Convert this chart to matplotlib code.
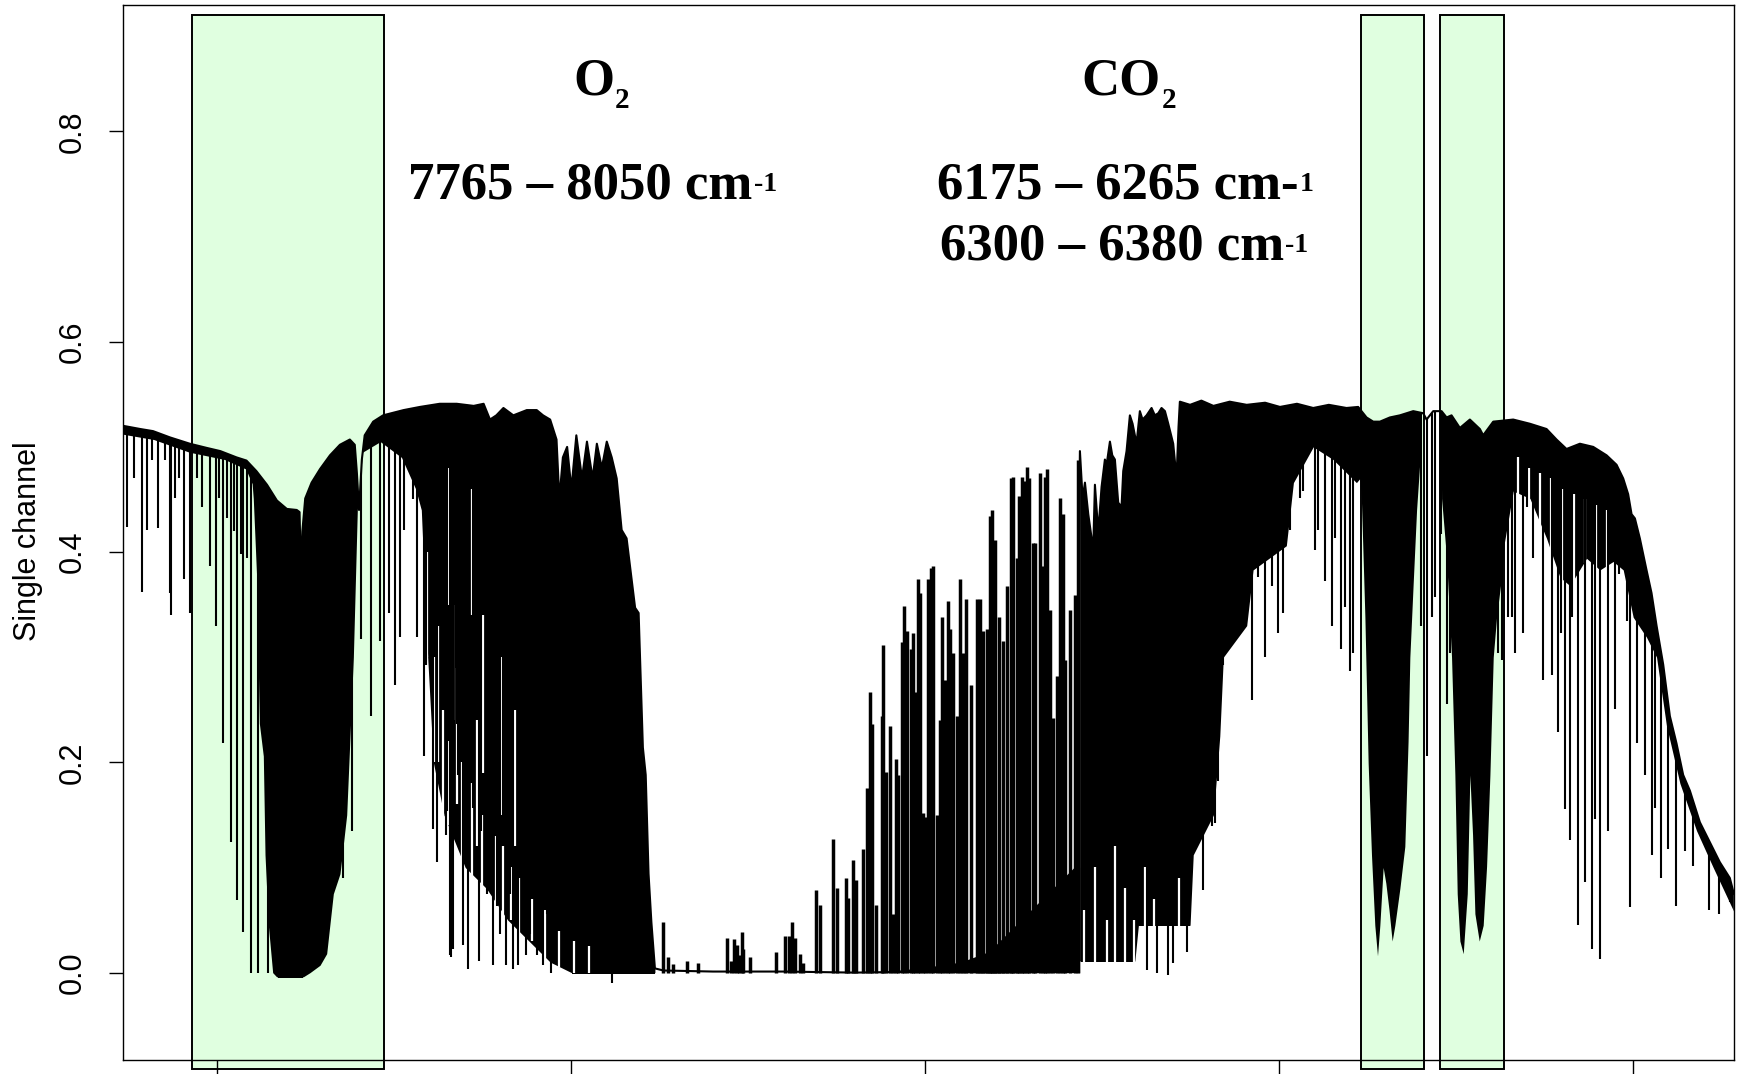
import numpy as np
import matplotlib
matplotlib.use("Agg")
import matplotlib.pyplot as plt
from matplotlib.patches import Polygon, Rectangle

plt.rcParams['font.family'] = ['Liberation Sans', 'DejaVu Sans']

# upper edge of the spectrum, wavenumber (cm-1) / single channel value
top_left_wn = [8133, 8109, 8091, 8067, 8039, 8015, 7996, 7973, 7959, 7945, 7930, 7916, 7902,
               7888, 7884, 7882, 7880, 7876, 7867, 7855, 7841, 7827, 7813, 7806, 7803, 7800,
               7796, 7792, 7780, 7766, 7737, 7714, 7686, 7662, 7638, 7624, 7615, 7606, 7596,
               7582, 7563, 7549, 7540, 7530, 7521, 7517, 7512, 7506, 7500, 7493, 7485, 7478,
               7470, 7464, 7457, 7450, 7443, 7436, 7429, 7422, 7410, 7405, 7399, 7395, 7391,
               7387, 7382]
top_left_y = [0.520, 0.517, 0.515, 0.509, 0.503, 0.499, 0.496, 0.490, 0.487, 0.477, 0.464, 0.449, 0.441,
              0.440, 0.438, 0.379, 0.420, 0.451, 0.466, 0.479, 0.492, 0.502, 0.507, 0.502, 0.475, 0.440,
              0.488, 0.511, 0.524, 0.530, 0.535, 0.538, 0.541, 0.541, 0.539, 0.541, 0.526, 0.530, 0.537,
              0.530, 0.535, 0.535, 0.530, 0.526, 0.507, 0.450, 0.490, 0.500, 0.460, 0.511, 0.470, 0.505,
              0.470, 0.503, 0.480, 0.505, 0.490, 0.470, 0.421, 0.413, 0.347, 0.342, 0.214, 0.188, 0.094,
              0.048, 0.004]

floor_wn = [7370, 7300, 7200, 7100, 7000, 6900, 6790]
floor_y = [0.002, 0.001, 0.001, 0.000, 0.001, 0.000, 0.001]

top_right_wn = [6781.6, 6777.8, 6774.5, 6769.8, 6762.8, 6760.4, 6755.7, 6751.0, 6746.3, 6743.9,
                6739.2, 6735.9, 6732.2, 6727.5, 6722.8, 6720.4, 6715.7, 6711.0, 6707.2, 6701.6,
                6696.9, 6693.1, 6687.4, 6680.4, 6675.7, 6670.9, 6666.3, 6661.5, 6656.8, 6649.8,
                6645.1, 6642.3, 6640.4, 6626, 6610, 6593, 6570, 6546, 6520, 6499, 6475, 6452, 6430,
                6405, 6388.5, 6376.7, 6367.2,
                6357.8, 6343.7, 6329.6, 6310.7, 6296.6, 6291.9, 6282.5, 6270.7, 6263.6, 6256.6,
                6244.8, 6230.7, 6216.6, 6211.9, 6197.7, 6169.5, 6145.9, 6122.4, 6108.3, 6094.2,
                6075.3, 6056.5, 6037.6, 6023.5, 6014.1, 6007.1, 6002.3, 5997.6, 5990.6, 5981.2,
                5974.1, 5967.0, 5957.6, 5948.2, 5938.8, 5929.4, 5919.9, 5905.8, 5891.7, 5877.6,
                5863.5, 5857.8]
top_right_y = [0.496, 0.451, 0.466, 0.436, 0.402, 0.464, 0.419, 0.462, 0.488, 0.483,
               0.505, 0.492, 0.488, 0.447, 0.443, 0.477, 0.496, 0.530, 0.522, 0.503,
               0.534, 0.526, 0.530, 0.537, 0.530, 0.532, 0.537, 0.534, 0.522, 0.503,
               0.470, 0.519, 0.543, 0.540, 0.544, 0.539, 0.543, 0.540, 0.542, 0.538, 0.541, 0.537, 0.540,
               0.537, 0.538, 0.528, 0.524,
               0.524, 0.528, 0.530, 0.534, 0.532, 0.526, 0.534, 0.534, 0.528, 0.530,
               0.518, 0.526, 0.517, 0.511, 0.524, 0.526, 0.522, 0.517, 0.507, 0.498,
               0.503, 0.500, 0.492, 0.483, 0.470, 0.455, 0.436, 0.432, 0.413, 0.383,
               0.361, 0.330, 0.293, 0.244, 0.218, 0.188, 0.173, 0.143, 0.124, 0.105,
               0.090, 0.075]

# lower edge of the solid black parts (filled up to the upper edge)
core_left_wn = [8133, 8090, 8040, 7990, 7960, 7951, 7949.4, 7944.6, 7940.8, 7935.2, 7932.8, 7928.1,
                7922.0, 7916.4, 7878.7, 7869.2, 7855.1, 7845.7, 7836.3, 7826.9, 7817.4, 7808.0,
                7802.4, 7795, 7770, 7740, 7720, 7712, 7703, 7695, 7680, 7650, 7620, 7590, 7560,
                7530, 7500, 7470, 7440, 7382]
core_left_lo = [0.512, 0.507, 0.495, 0.488, 0.479, 0.465, 0.451, 0.376, 0.237, 0.206, 0.112, 0.045,
                0.000, -0.004, -0.004, 0.000, 0.007, 0.018, 0.075, 0.094, 0.150, 0.300,
                0.440, 0.495, 0.505, 0.490, 0.460, 0.440, 0.300, 0.200, 0.150, 0.100, 0.080, 0.050, 0.030,
                0.010, 0.000, 0.000, 0.000, 0.000]

core_right_wn = [6782, 6704, 6699, 6626, 6621.5, 6593, 6584, 6579, 6546, 6537, 6490, 6480, 6452,
                 6424, 6391, 6386, 6384, 6379, 6374.4, 6369.7, 6365, 6361.2, 6357.9, 6353.2,
                 6349.4, 6345, 6340.5, 6336.7, 6329.6, 6322.6, 6318, 6315.5, 6310.8, 6306, 6301,
                 6297, 6272, 6270.7, 6263.6, 6256.6, 6251.9, 6248.6, 6244.8, 6240.1, 6234.4,
                 6230.7, 6226.9, 6223.6, 6217.5, 6211.9, 6207.1, 6202.4, 6197.7, 6193.0, 6186.0,
                 6182.7, 6169.5, 6145.9, 6122.4, 6103.4, 6089.4, 6065.9, 6047, 6028.3, 6014.1,
                 6000, 5981.2, 5967, 5953, 5934, 5910.5, 5887, 5857.8]
core_right_lo = [0.011, 0.011, 0.045, 0.045, 0.112, 0.150, 0.225, 0.300, 0.330, 0.383, 0.406, 0.466, 0.500,
                 0.488, 0.466, 0.470, 0.451, 0.338, 0.199, 0.112, 0.045, 0.016, 0.045, 0.100,
                 0.085, 0.060, 0.030, 0.045, 0.080, 0.120, 0.220, 0.300, 0.370, 0.440, 0.490,
                 0.600, 0.600, 0.451, 0.394, 0.300, 0.188, 0.075, 0.030, 0.018, 0.075,
                 0.188, 0.131, 0.056, 0.030, 0.045, 0.101, 0.188, 0.300, 0.338, 0.376,
                 0.406, 0.458, 0.451, 0.413, 0.376, 0.368, 0.394, 0.383, 0.391, 0.383,
                 0.338, 0.319, 0.300, 0.235, 0.180, 0.135, 0.100, 0.058]

# white windows between neighbouring lines inside the dark bands
gap_wn = [7703.8, 7694.4, 7681.8, 7674.0, 7655.1, 7641.0, 7626.9, 7606.4, 7597.0, 7586.0,
          7573.4, 7556.2, 7537.3, 7516.9, 7496.5, 7474.5, 7688.0, 7661.0, 7634.0,
          7674.3, 7666.8, 7640.9, 7624.4, 7600.0, 7580.0,
          6775.4, 6759.7, 6744.0, 6731.4, 6717.3, 6704.7, 6689.0, 6677.0, 6657.6, 6641.9,
          6162.7, 6147.0, 6131.3, 6115.6, 6099.9, 6084.2, 6068.4, 6052.8, 6037.0]
gap_lo = [0.300, 0.200, 0.150, 0.140, 0.100, 0.090, 0.080, 0.060, 0.050, 0.050,
          0.035, 0.030, 0.010, 0.005, 0.000, 0.000, 0.200, 0.160, 0.120,
          0.350, 0.240, 0.340, 0.190, 0.150, 0.120,
          0.000, 0.000, 0.000, 0.000, 0.000, 0.000, 0.000, 0.000, 0.000, 0.000,
          0.440, 0.430, 0.410, 0.390, 0.370, 0.370, 0.390, 0.380, 0.380]
gap_hi = [0.400, 0.300, 0.250, 0.220, 0.200, 0.180, 0.150, 0.130, 0.120, 0.100,
          0.090, 0.070, 0.060, 0.040, 0.030, 0.025, 0.330, 0.290, 0.240,
          0.480, 0.350, 0.460, 0.340, 0.300, 0.250,
          0.060, 0.100, 0.050, 0.120, 0.080, 0.050, 0.100, 0.070, 0.040, 0.090,
          0.490, 0.480, 0.475, 0.470, 0.460, 0.455, 0.450, 0.445, 0.440]

# single absorption lines (bottom of each line)
dip_wn = [8128.2, 8117.8, 8107.0, 8099.0, 8092.9, 8083.5, 8074.0, 8067.0, 8065.6, 8059.9, 8053.8,
          8047.2, 8038.7, 8028.4, 8022.3, 8010.5, 8002.5, 7997.3, 7991.7, 7987.0, 7981.3, 7976.6,
          7971.9, 7967.2, 7963.4, 7958.7, 7953.0, 7943.2, 7929.0,
          7823.1, 7815.1, 7809.5, 7797.7, 7783.6,
          7770.4, 7757.2, 7749.2, 7742.1, 7736.5, 7724.2, 7718.6, 7708.2, 7705.9, 7695.0, 7689.4,
          7678.6, 7676.2, 7670.6, 7666.8, 7662.1,
          7677.1, 7671.5, 7659.7, 7653.6, 7645.6, 7638.5, 7630.0, 7628.2, 7619.7, 7614.0, 7611.2,
          7605.6, 7600.9, 7596.1, 7592.9, 7586.7, 7582.0, 7575.0, 7570.2, 7564.1, 7558.5, 7552.8,
          7549.1, 7544.4, 7539.7, 7534.0, 7528.8, 7443.0,
          6687.4, 6673.3, 6657.8, 6650.7, 6631.0,
          6607.4, 6595.6, 6590.9, 6586.2, 6579.2, 6574.4, 6562.7, 6546.2, 6538.2, 6529.7, 6519.8,
          6510.9, 6501.5, 6494.4, 6485.0, 6470.9, 6467.1, 6449.7, 6445.0, 6435.6, 6426.1, 6421.4,
          6413.4, 6407.3, 6400.3, 6395.5,
          6300.4, 6291.9, 6284.8, 6279.6, 6272.1, 6263.6, 6258.9, 6190.7, 6186.0, 6177.5, 6171.8,
          6167.1, 6156.3, 6150.6, 6141.2, 6128.1, 6115.3, 6106.9, 6102.2, 6096.5, 6089.4, 6086.2,
          6078.6, 6073.9, 6068.3, 6057.9, 6054.1, 6047.5, 6042.4, 6036.2, 6025.9, 6019.8, 6009.4,
          6004.7, 5995.3, 5983.5, 5974.1, 5968.9, 5960.9, 5950.6, 5940.2, 5927.0, 5916.2, 5903.0,
          5892.7, 5878.5, 5863.5]
dip_y = [0.424, 0.470, 0.362, 0.421, 0.488, 0.423, 0.488, 0.361, 0.340, 0.451, 0.470,
         0.374, 0.342, 0.470, 0.443, 0.387, 0.330, 0.451, 0.218, 0.432, 0.124, 0.420,
         0.069, 0.398, 0.039, 0.394, 0.000, 0.000, 0.000,
         0.090, 0.250, 0.135, 0.317, 0.244,
         0.315, 0.342, 0.274, 0.319, 0.421, 0.450, 0.319, 0.206, 0.293, 0.137, 0.105,
         0.351, 0.154, 0.015, 0.022, 0.236,
         0.131, 0.017, 0.188, 0.026, 0.003, 0.157, 0.011, 0.135, 0.075, 0.188, 0.007,
         0.063, 0.037, 0.131, 0.007, 0.075, 0.003, 0.007, 0.094, 0.017, 0.037, 0.075,
         0.017, 0.075, 0.007, 0.056, 0.000, -0.010,
         0.002, 0.000, -0.002, 0.009, 0.020,
         0.079, 0.139, 0.142, 0.182, 0.293, 0.315, 0.342, 0.383, 0.259, 0.376, 0.300,
         0.368, 0.323, 0.342, 0.421, 0.451, 0.458, 0.402, 0.421, 0.372, 0.330, 0.413,
         0.308, 0.348, 0.287, 0.304,
         0.330, 0.206, 0.338, 0.357, 0.417, 0.255, 0.304, 0.304, 0.297, 0.338, 0.338,
         0.304, 0.323, 0.443, 0.394, 0.278, 0.283, 0.229, 0.323, 0.156, 0.126, 0.338,
         0.045, 0.387, 0.086, 0.022, 0.146, 0.013, 0.391, 0.135, 0.251, 0.379, 0.334,
         0.062, 0.218, 0.188, 0.112, 0.157, 0.090, 0.118, 0.063, 0.116, 0.101, 0.127,
         0.060, 0.056, 0.067]

# transmission peaks in the saturated water band
peak_wn = [7371.1, 7363.1, 7356.0, 7336.3, 7320.7, 7280.7, 7275.1, 7270.4, 7266.6, 7263.3, 7259.5,
           7257.2, 7247.8, 7211.0, 7198.3, 7192.2, 7187.9, 7184.2, 7177.1, 7172.4, 7154.5, 7148.9,
           7131.0, 7125.3, 7112.1, 7108.8, 7101.8, 7098.0, 7088.6, 7082.9, 7078.2, 7075.4, 7069.8,
           7061.8, 7059.4, 7055.6, 7050.0, 7045.4, 7041.5, 7038.2, 7033.5, 7030.2, 7026.4, 7020.8,
           7018.0, 7014.7, 7010.0, 7007.6, 7003.9, 7000.6, 6996.8, 6992.5, 6989.7, 6984.1, 6979.4,
           6977.0, 6972.3, 6968.5, 6965.2, 6961.5, 6955.8, 6951.1, 6946.4, 6942.6, 6936.1, 6927.6,
           6922.9, 6919.1, 6913.5, 6908.8, 6906.4, 6901.7, 6895.6, 6890.9, 6885.2, 6879.6, 6875.8,
           6871.1, 6867.3, 6864.0, 6860.7, 6857.0, 6853.2, 6848.5, 6845.2, 6838.1, 6833.4, 6831.1,
           6827.8, 6824.0, 6819.3, 6813.7, 6809.9, 6805.2, 6802.8, 6795.8, 6788.7, 6784.0]
peak_y = [0.048, 0.015, 0.008, 0.011, 0.009, 0.033, 0.011, 0.032, 0.026, 0.017, 0.039,
          0.022, 0.015, 0.020, 0.035, 0.035, 0.048, 0.033, 0.018, 0.009, 0.079, 0.064,
          0.127, 0.080, 0.090, 0.071, 0.107, 0.088, 0.118, 0.176, 0.267, 0.236, 0.064,
          0.244, 0.312, 0.191, 0.235, 0.056, 0.203, 0.188, 0.314, 0.349, 0.325, 0.308,
          0.323, 0.267, 0.374, 0.361, 0.152, 0.148, 0.374, 0.385, 0.387, 0.150, 0.240,
          0.338, 0.278, 0.353, 0.327, 0.304, 0.244, 0.374, 0.304, 0.355, 0.274, 0.355,
          0.355, 0.325, 0.327, 0.434, 0.440, 0.411, 0.338, 0.315, 0.368, 0.470, 0.471,
          0.394, 0.453, 0.471, 0.468, 0.481, 0.470, 0.409, 0.409, 0.475, 0.387, 0.471,
          0.479, 0.345, 0.242, 0.282, 0.451, 0.436, 0.297, 0.345, 0.359, 0.488]

base_wn = [7070, 7000, 6950, 6910, 6880, 6850, 6820, 6790, 6782]
base_hi = [0.000, 0.005, 0.010, 0.020, 0.040, 0.060, 0.080, 0.100, 0.100]

# fitting windows (green boxes)
win_lo = [7765, 6296, 6183]
win_hi = [8036, 6385, 6273]

yticks = [0.0, 0.2, 0.4, 0.6, 0.8]
xticks = [8000, 7500, 7000, 6500, 6000]

fig = plt.figure(figsize=(17.44, 10.74), dpi=100)
ax = fig.add_axes([0.0707, 0.01257, 0.9238, 0.98231])
ax.set_xlim(8133, 5857)
ax.set_ylim(-0.0836, 0.9198)

for lo, hi in zip(win_lo, win_hi):
    ax.add_patch(Rectangle((hi, -0.092), lo - hi, 1.003, facecolor='#e0ffe0',
                           edgecolor='black', linewidth=1.4, clip_on=False, zorder=1))

spec_wn = np.concatenate([top_left_wn, floor_wn, top_right_wn])
spec_y = np.concatenate([top_left_y, floor_y, top_right_y])

clip_xy = np.column_stack([np.concatenate([spec_wn, [spec_wn[-1], spec_wn[0]]]),
                           np.concatenate([spec_y, [-1.0, -1.0]])])
clip = Polygon(clip_xy, closed=True, transform=ax.transData)

for cw, cl in [(core_left_wn, core_left_lo), (core_right_wn, core_right_lo)]:
    f = ax.fill_between(cw, cl, 1.0, color='black', linewidth=0, zorder=2)
    f.set_clip_path(clip)

ax.fill_between(base_wn, 0.0, base_hi, color='black', linewidth=0, zorder=2)

g = ax.vlines(gap_wn, gap_lo, gap_hi, colors='white', linewidth=1.6, zorder=2.5)
g.set_clip_path(clip)

d = ax.vlines(dip_wn, dip_y, 1.0, colors='black', linewidth=1.5, zorder=3)
d.set_clip_path(clip)

ax.vlines(peak_wn, 0.0, peak_y, colors='black', linewidth=2.5, zorder=3)
ax.plot(spec_wn, spec_y, color='black', linewidth=1.5, zorder=4)

ax.set_xticks(xticks)
ax.set_xticklabels([])
ax.set_yticks(yticks)
ax.set_yticklabels(['%.1f' % v for v in yticks], rotation=90, va='center', fontsize=22)
ax.tick_params(axis='both', length=10, width=1.0, direction='out', pad=15.5)
for s in ax.spines.values():
    s.set_linewidth(1.0)

fig.text(0.016, 0.4963, 'Single channel', rotation=90, ha='center', va='center', fontsize=22)

serif = dict(family=['Liberation Serif', 'DejaVu Serif'], fontweight='bold', color='black')
labels = [("O", "2", None, 7497.7, 0.8347),
          ("CO", "2", None, 6779.2, 0.8347),
          ("7765 \u2013 8050 cm", None, "-1", 7730.8, 0.7364),
          ("6175 \u2013 6265 cm-", None, "1", 6984.0, 0.7364),
          ("6300 \u2013 6380 cm", None, "-1", 6979.3, 0.6778)]
for main, sub, sup, x, y in labels:
    t = ax.text(x, y, main, ha='left', va='baseline', fontsize=38, **serif)
    if sub:
        ax.annotate(sub, xy=(1, 0), xycoords=t, xytext=(0.5, -1.5), textcoords='offset points',
                    ha='left', va='baseline', fontsize=21, **serif)
    if sup:
        ax.annotate(sup, xy=(1, 0), xycoords=t, xytext=(1.0, 13.5), textcoords='offset points',
                    ha='left', va='baseline', fontsize=20, **serif)

fig.savefig('out.png', dpi=100)
